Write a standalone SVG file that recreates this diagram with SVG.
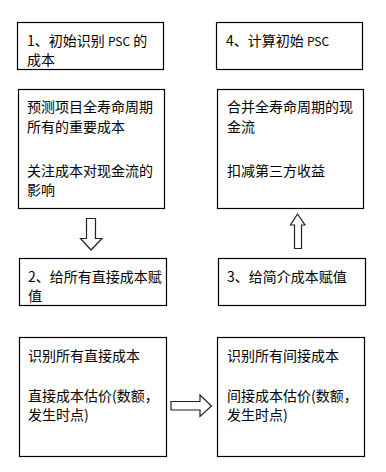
<svg xmlns="http://www.w3.org/2000/svg" width="386" height="472" viewBox="0 0 386 472">
<style>
.box{fill:#fff;stroke:#000;stroke-width:1.2}
.t{font-family:"Noto Sans CJK SC","Noto Sans",sans-serif;font-size:14px;fill:#000}
.arr{fill:#fff;stroke:#222;stroke-width:1.2;stroke-linejoin:miter}
</style>
<rect width="386" height="472" fill="#fff"/>
<g id="n1">
<rect class="box" x="17.5" y="22.5" width="146" height="47"/>
<text class="t" x="27" y="46">1、初始识别 <tspan font-size="12">PSC</tspan> 的</text>
<text class="t" x="27" y="65">成本</text>
</g>
<g id="n1b">
<rect class="box" x="18.5" y="89.5" width="146" height="119"/>
<text class="t" x="27" y="112">预测项目全寿命周期</text>
<text class="t" x="27" y="132">所有的重要成本</text>
<text class="t" x="27" y="176">关注成本对现金流的</text>
<text class="t" x="27" y="195">影响</text>
</g>
<g id="n4">
<rect class="box" x="216.5" y="22.5" width="146" height="47"/>
<text class="t" x="226" y="46">4、计算初始 <tspan font-size="12">PSC</tspan></text>
</g>
<g id="n4b">
<rect class="box" x="217.5" y="89.5" width="146" height="119"/>
<text class="t" x="227" y="112">合并全寿命周期的现</text>
<text class="t" x="227" y="132">金流</text>
<text class="t" x="227" y="176">扣减第三方收益</text>
</g>
<g id="n2">
<rect class="box" x="19.5" y="258.5" width="147" height="47"/>
<text class="t" x="28" y="282">2、给所有直接成本赋</text>
<text class="t" x="28" y="301">值</text>
</g>
<g id="n2b">
<rect class="box" x="19.5" y="337.5" width="147" height="119"/>
<text class="t" x="28" y="361">识别所有直接成本</text>
<text class="t" x="28" y="401">直接成本估价(数额，</text>
<text class="t" x="28" y="420">发生时点)</text>
</g>
<g id="n3">
<rect class="box" x="218.5" y="258.5" width="147" height="47"/>
<text class="t" x="227" y="282">3、给简介成本赋值</text>
</g>
<g id="n3b">
<rect class="box" x="217.5" y="337.5" width="147" height="119"/>
<text class="t" x="227" y="361">识别所有间接成本</text>
<text class="t" x="227" y="401">间接成本估价(数额，</text>
<text class="t" x="227" y="420">发生时点)</text>
</g>
<g id="connectors">
<polygon class="arr" points="86.5,218.5 95.5,218.5 95.5,238.5 102,238.5 91,250 80.5,238.5 86.5,238.5"/>
<polygon class="arr" points="294.5,248.5 301.5,248.5 301.5,225 305,225 297.5,214 290.5,225 294.5,225"/>
<polygon class="arr" points="171,401.5 200,401.5 200,395 211.5,406 200,416.5 200,410 171,410"/>
</g>
</svg>
